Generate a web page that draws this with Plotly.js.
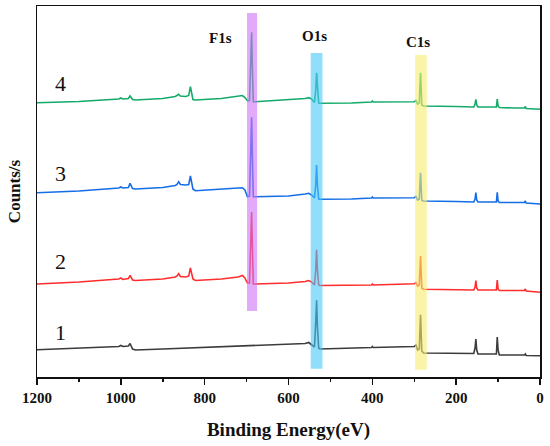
<!DOCTYPE html>
<html>
<head>
<meta charset="utf-8">
<script src="https://cdn.plot.ly/plotly-3.0.1.min.js"></script>
<style>html,body{margin:0;padding:0;background:#fff;}#chart{width:550px;height:446px;}</style>
</head>
<body>
<div id="chart"></div>
<script>
// Binding energy grid (eV)
const energy = [1200,1100,1005,1000,995,982,978,972,965,900,870,866,862,858,845,838,834,828,822,760,720,710,704,698,693,690,688,686,684,680,600,560,552,545,538,535,533,531,528,525,450,402,400,398,300,296,292,288,285,282,278,200,158,155,153,151,148,104,102,100,97,60,37,35,33,0];

// Intensities (arbitrary units, offset stacked)
const sample1 = [27.3,29,30.5,31.5,30.5,31,33.5,28,27,28,28.5,28.5,28.5,28.5,28.7,28.8,29,29,29,30,31,31,31.3,31.5,31.5,31.5,31.5,31.5,31.5,31.7,32.5,33.5,34.5,32,30,55,76.7,50,29,28,28.5,29.5,30.5,29.5,30.5,32,27,28,62.3,26,24,23.5,23.5,29,38,27,23,23,40,27,22,22,22,23,21.5,21.3];
const sample2 = [93,95,98,99,97.5,98.5,101.7,97,96.5,98,100,101,103.3,100.5,100,101,109,98,96.5,98,100,101.5,99,94,94,137,165,127,93,93,94,95.5,96.5,95,92,107,127.3,107,92,91.5,91.5,92,93,92,93.3,94.3,91,92,121,89,87.7,87.5,87,90,96.3,89,87,87,97,88,86.5,86.5,86.5,88,86,84.7];
const sample3 = [184.3,186,189,190,189,189.5,193.7,188.5,188,189.5,191.5,192.5,195.3,192.5,192,192.5,201,188,186.3,187.5,189,189.3,187,180.3,181,227,259.7,217,180.3,180.3,181,183,183.7,182,179,192,212,192,178,177.7,178,179,180,179,179.3,180.5,177,178,204.3,176.5,176,175.5,175,178,184.3,177,175,175,184.7,176,174.5,174.5,174.5,176,174,173];
const sample4 = [274.3,275.5,278,279,278,278.5,281,277.5,277,278.5,280.5,281.5,282.7,281,280.5,281.5,290.3,277.5,277,278.5,280.5,281.5,279.5,276.3,276.5,317,344.7,307,275.3,275.3,277,278.5,279.3,278,274.5,287,304.3,287,274,273.7,274,275,276,275,275.3,276.5,273,274,304.3,272,271,270.5,270,273,277.7,272,270,270,278,271,269.5,269,269,270.5,268.5,267.7];

const tickValues = [1200,1000,800,600,400,200,0];
const tickLabels = ["1200","1000","800","600","400","200","0"];
const sampleLabels = ["1","2","3","4"];
const peakNames = ["F1s","O1s","C1s"];
const peakBandLo = [675,519,270];
const peakBandHi = [699,547,298];

const seriesData = [sample1, sample2, sample3, sample4];
const colors = ["rgb(60,60,60)","rgb(255,45,45)","rgb(20,110,232)","rgb(20,170,105)"];

const traces = seriesData.map((ys, i) => ({
  x: energy, y: ys, type: 'scatter', mode: 'lines',
  line: {color: colors[i], width: 1.6}, showlegend: false, hoverinfo: 'skip'
}));

const bandColors = ["rgb(205,115,245)","rgb(70,200,250)","rgb(246,236,110)"];
const bandY = [[66,364],[8.3,324],[7.3,322]];
const shapes = peakNames.map((n, i) => ({
  type: 'rect', xref: 'x', yref: 'y',
  x0: peakBandLo[i], x1: peakBandHi[i], y0: bandY[i][0], y1: bandY[i][1],
  fillcolor: bandColors[i], opacity: 0.6, line: {width: 0}, layer: 'above'
}));

const serif = "Liberation Serif";
const labelY = [44.7,115.7,204,293.7];
const annotations = sampleLabels.map((t, i) => ({
  x: 1143, y: labelY[i], xref: 'x', yref: 'y', text: t, showarrow: false,
  font: {family: serif, size: 22, color: '#111'}
}));
const peakLabelX = [763,537,291];
const peakLabelY = [339,341,335];
peakNames.forEach((n, i) => annotations.push({
  x: peakLabelX[i], y: peakLabelY[i], xref: 'x', yref: 'y', text: '<b>' + n + '</b>', showarrow: false,
  font: {family: serif, size: 15, color: '#111'}
}));

const layout = {
  width: 550, height: 446,
  margin: {l: 37, r: 10, t: 6, b: 69},
  paper_bgcolor: '#fff', plot_bgcolor: '#fff',
  font: {family: serif},
  xaxis: {
    range: [1200, 0], tickmode: 'array', tickvals: tickValues,
    ticktext: tickLabels.map(t => '<b>' + t + '</b>'),
    ticks: 'outside', ticklen: 6, tickwidth: 1.5, tickcolor: '#111',
    minor: {dtick: 100, tick0: 0, ticks: 'outside', ticklen: 3, tickwidth: 1.5, tickcolor: '#111'},
    showline: true, linecolor: '#111', linewidth: 1.5, mirror: true,
    showgrid: false, zeroline: false,
    tickfont: {family: serif, size: 15, color: '#111'},
    title: {text: '<b>Binding Energy(eV)</b>', font: {family: serif, size: 19, color: '#111'}, standoff: 18}
  },
  yaxis: {
    range: [0, 371], showticklabels: false, ticks: '',
    showline: true, linecolor: '#111', linewidth: 1.5, mirror: true,
    showgrid: false, zeroline: false,
    title: {text: '<b>Counts/s</b>', font: {family: serif, size: 17, color: '#111'}, standoff: 10}
  },
  shapes: shapes,
  annotations: annotations
};

Plotly.newPlot('chart', traces, layout, {staticPlot: true, displayModeBar: false});
</script>
</body>
</html>
